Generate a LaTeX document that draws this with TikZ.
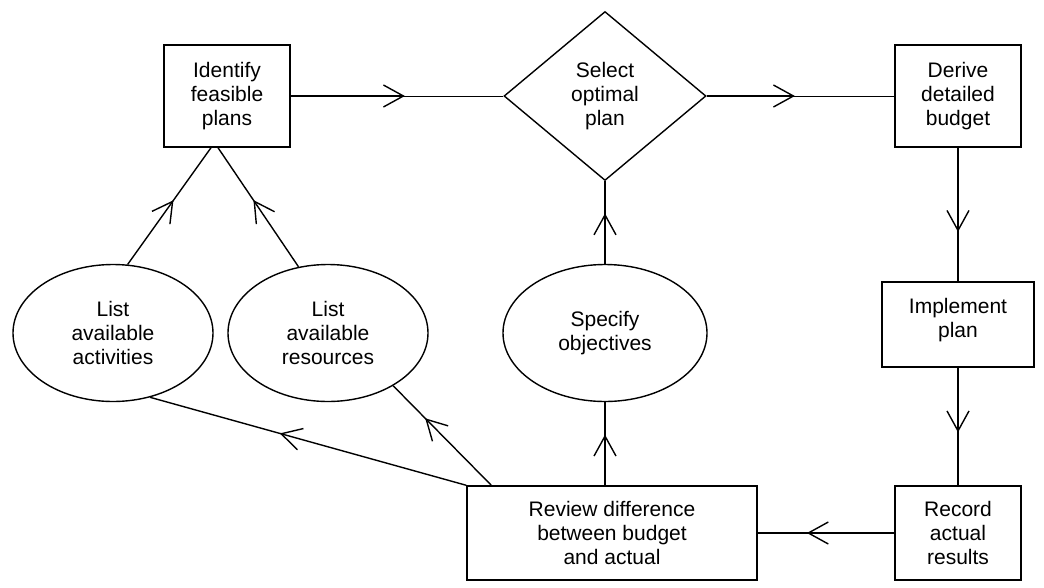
\documentclass[tikz,border=0pt]{standalone}
\usepackage{fontspec}
\setmainfont{Liberation Sans}
\usetikzlibrary{shapes.geometric,arrows.meta,decorations.markings,calc}
\begin{document}
\begin{tikzpicture}[x=1pt,y=-1pt,
  lw/.style={line width=1.4pt},
  txt/.style={align=center,inner sep=0pt,font=\fontsize{21}{24}\selectfont},
  box/.style={draw,lw,rectangle,txt},
  oval/.style={draw,lw,ellipse,txt,minimum width=200pt,minimum height=137pt},
  dia/.style={draw,lw,diamond,txt,minimum width=202pt,minimum height=169pt},
  barb/.style={-{Straight Barb[length=20pt,width=22pt]}},
  midarrow/.style={postaction={decorate},decoration={markings,mark=at position #1 with {\arrow{Straight Barb[length=20pt,width=22pt]}}}},
  thinline/.style={line width=0.8pt}
]
\useasboundingbox (0,0) rectangle (1044,587);

\node[box,minimum width=126pt,minimum height=102pt] (id) at (227,96) {Identify\\feasible\\plans};
\node[dia] (sel) at (605,96) {Select\\optimal\\plan};
\node[box,minimum width=126pt,minimum height=102pt] (der) at (958,96) {Derive\\detailed\\budget};
\node[box,minimum width=152pt,minimum height=85pt] (imp) at (958,324.5) {};
\node[txt] (impt) at (958,320.5) {Implement\\plan};
\node[box,minimum width=126pt,minimum height=94pt] (rec) at (958,533) {Record\\actual\\results};
\node[box,minimum width=290pt,minimum height=94pt] (rev) at (612,533) {Review difference\\between budget\\and actual};
\node[oval] (act) at (113,333) {List\\available\\activities};
\node[oval] (res) at (328,333) {List\\available\\resources};
\node[oval,minimum width=204pt] (obj) at (605,333) {Specify\\objectives};

% top horizontal connectors (thick part up to the arrowhead, thin after)
\draw[thinline] (id.east) -- (sel.west);
\draw[lw,barb] (id.east) -- ($(id.east)!0.537!(sel.west)$);
\draw[thinline] (sel.east) -- (der.west);
\draw[lw,barb] (sel.east) -- ($(sel.east)!0.47!(der.west)$);

% right column
\draw[lw,midarrow=0.63] (der.south) -- (imp.north);
\draw[lw,midarrow=0.55] (imp.south) -- (rec.north);
\draw[lw,midarrow=0.64] (rec.west) -- (rev.east);

% from review
\draw[lw,midarrow=0.61] (rev.north -| obj.south) -- (obj.south);
\draw[lw,midarrow=0.61] (obj.north) -- (sel.south);
\draw[lw,midarrow=0.59] (rev.north west) -- (act.-60);
\draw[lw,midarrow=0.675] ([xshift=25pt]rev.north west) -- (res.-39);

% ellipses to identify
\draw[lw,midarrow=0.55] (act.78) -- ([xshift=-16pt]id.south);
\draw[lw,midarrow=0.56] (res.114) -- ([xshift=-9pt]id.south);
\end{tikzpicture}
\end{document}
